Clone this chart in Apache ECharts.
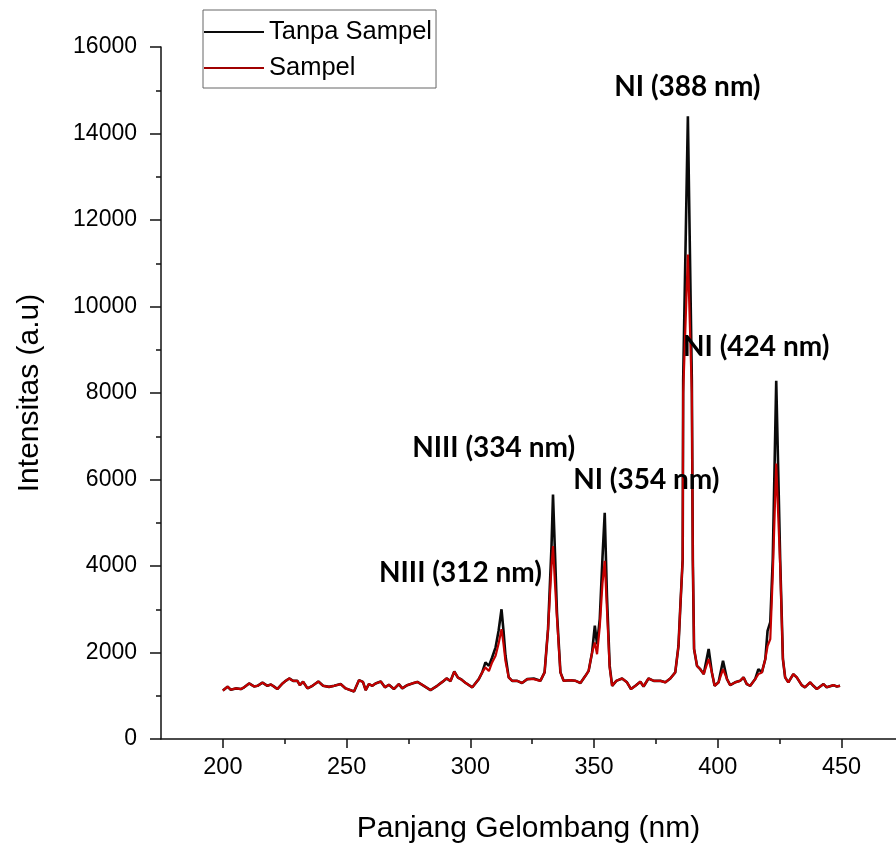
<!DOCTYPE html>
<html><head><meta charset="utf-8">
<script src="https://cdn.jsdelivr.net/npm/echarts@6/dist/echarts.min.js"></script>
<style>html,body{margin:0;padding:0;background:#fff}#c{width:896px;height:849px}</style>
</head><body><div id="c"></div>
<script>
const wavelength = [200.0,201.9,203.2,205.2,207.3,208.6,210.6,212.6,214.0,216.0,218.0,219.4,220.7,222.0,224.1,225.4,226.8,228.4,230.1,231.1,232.4,234.2,236.2,238.6,240.5,242.9,245.0,247.6,249.6,253.0,255.0,256.6,257.7,259.0,260.4,261.7,263.8,265.5,267.1,269.1,271.1,272.5,274.5,276.5,278.6,281.2,283.9,286.6,288.7,290.4,292.0,293.5,295.0,296.5,298.0,300.8,303.4,304.8,306.1,307.5,308.8,310.2,311.4,312.6,313.4,314.2,315.5,316.9,318.9,320.9,323.0,325.6,328.3,330.0,331.4,332.8,333.4,334.2,335.0,336.4,337.7,340.4,342.5,344.5,346.5,347.8,349.2,350.3,351.2,352.3,353.4,354.3,355.2,356.3,357.3,359.0,361.3,363.3,364.9,366.7,368.7,370.0,372.0,374.1,376.8,378.8,380.8,382.8,384.1,384.8,385.8,386.0,387.9,389.5,389.9,390.4,391.6,392.9,394.3,396.3,397.6,398.7,400.3,402.1,403.7,405.0,407.0,409.0,410.4,411.7,413.1,415.1,416.4,417.8,419.2,420.1,421.2,422.2,423.6,425.2,426.3,427.2,428.5,430.5,431.9,433.9,435.2,437.3,438.6,440.0,442.7,444.0,446.7,448.1,449.4];

const tanpaSampel = [1120,1210,1140,1170,1155,1195,1285,1215,1230,1305,1230,1260,1210,1155,1285,1345,1400,1345,1345,1245,1325,1170,1230,1330,1230,1205,1230,1270,1170,1100,1360,1320,1130,1270,1230,1285,1330,1195,1255,1155,1270,1170,1245,1285,1320,1230,1130,1230,1320,1400,1340,1560,1420,1370,1300,1195,1385,1540,1770,1690,1885,2120,2500,3000,2500,1925,1425,1345,1345,1295,1385,1400,1345,1540,2540,4460,5650,4300,2925,1540,1345,1360,1345,1295,1460,1575,2000,2620,2190,2770,4200,5230,3310,1690,1230,1345,1400,1310,1155,1230,1325,1215,1400,1345,1345,1310,1400,1540,2150,3000,4150,8300,14400,8300,4150,2080,1690,1615,1500,2080,1540,1230,1310,1810,1385,1245,1310,1345,1425,1270,1230,1385,1615,1540,1850,2500,2700,4150,8280,4150,1850,1425,1310,1500,1425,1245,1195,1310,1230,1155,1270,1195,1245,1215,1230];

const sampel = [1120,1210,1140,1170,1155,1195,1285,1215,1230,1305,1230,1260,1210,1155,1285,1345,1400,1345,1345,1245,1325,1170,1230,1330,1230,1205,1230,1270,1170,1100,1360,1320,1130,1270,1230,1285,1330,1195,1255,1155,1270,1170,1245,1285,1320,1230,1130,1230,1320,1400,1340,1560,1420,1370,1300,1195,1385,1540,1655,1570,1770,1925,2200,2540,2200,1800,1425,1345,1345,1295,1385,1385,1345,1540,2540,4000,4460,3600,2800,1540,1345,1360,1345,1295,1460,1575,2000,2230,1960,2600,3600,4120,3000,1650,1230,1345,1400,1310,1155,1230,1325,1215,1400,1345,1345,1310,1400,1540,2150,3000,4150,8000,11200,8000,4150,2080,1690,1615,1500,1850,1540,1230,1310,1615,1385,1245,1310,1345,1425,1270,1230,1385,1500,1540,1850,2150,2310,3800,6370,4000,1850,1425,1310,1500,1425,1245,1195,1310,1230,1155,1270,1195,1245,1215,1230];

const seriesNames = ['Tanpa Sampel', 'Sampel'];
const xTickLabels = [200, 250, 300, 350, 400, 450];
const xMinorTicks = [225, 275, 325, 375, 425];
const yTickLabels = [0, 2000, 4000, 6000, 8000, 10000, 12000, 14000, 16000];

const annotationText = ['NI (388 nm)', 'NI (424 nm)', 'NIII (334 nm)', 'NI (354 nm)', 'NIII (312 nm)'];
const annotationX = [387.7, 415.5, 309.4, 371.1, 296.0];
const annotationY = [15080, 9070, 6740, 5980, 3830];

const chart = echarts.init(document.getElementById('c'), null, {renderer: 'canvas'});
const axisFont = 'Liberation Sans';
const axisColor = '#111';

chart.setOption({
  animation: false,
  backgroundColor: '#fff',
  grid: {left: 161, right: 0, top: 47, bottom: 109, containLabel: false},
  legend: {
    data: seriesNames,
    orient: 'vertical',
    left: 203, top: 10,
    padding: [9, 4, 7, 1],
    itemGap: 10,
    itemWidth: 60, itemHeight: 2,
    icon: 'rect',
    borderColor: '#666', borderWidth: 1,
    textStyle: {fontFamily: axisFont, fontSize: 25.5, color: '#000'},
  },
  xAxis: [{
    type: 'value', min: 175, max: 472, interval: 25,
    position: 'bottom',
    name: 'Panjang Gelombang (nm)', nameLocation: 'middle', nameGap: 75,
    nameTextStyle: {fontFamily: axisFont, fontSize: 30, color: '#000'},
    axisLine: {show: true, onZero: false, lineStyle: {color: axisColor, width: 1.5}},
    axisTick: {show: true, inside: false, length: 9, customValues: xTickLabels, lineStyle: {color: axisColor, width: 1.5}},
    axisLabel: {show: true, margin: 17, customValues: xTickLabels, fontFamily: axisFont, fontSize: 23.5, color: '#000'},
    splitLine: {show: false}
  }, {
    type: 'value', min: 175, max: 472, interval: 25,
    position: 'bottom', offset: 0,
    axisLine: {show: false},
    axisTick: {show: true, inside: false, length: 5, customValues: xMinorTicks, lineStyle: {color: axisColor, width: 1.5}},
    axisLabel: {show: false},
    splitLine: {show: false}
  }],
  yAxis: {
    type: 'value', min: 0, max: 16000, interval: 2000,
    name: 'Intensitas (a.u)', nameLocation: 'middle', nameGap: 116,
    nameTextStyle: {fontFamily: axisFont, fontSize: 30, color: '#000'},
    axisLine: {show: true, lineStyle: {color: axisColor, width: 1.5}},
    axisTick: {show: true, inside: false, length: 11, lineStyle: {color: axisColor, width: 1.5}},
    minorTick: {show: true, splitNumber: 2, length: 5, lineStyle: {color: axisColor, width: 1.5}},
    axisLabel: {margin: 24, fontFamily: axisFont, fontSize: 23, color: '#000',
      formatter: v => yTickLabels.includes(v) ? String(v) : ''},
    splitLine: {show: false}
  },
  series: [{
    name: seriesNames[0], type: 'line', xAxisIndex: 0,
    data: wavelength.map((w, i) => [w, tanpaSampel[i]]),
    showSymbol: false, symbol: 'none',
    lineStyle: {color: '#0a0a0a', width: 2.6},
    itemStyle: {color: '#0a0a0a'},
    z: 2
  }, {
    name: seriesNames[1], type: 'line', xAxisIndex: 0,
    data: wavelength.map((w, i) => [w, sampel[i]]),
    showSymbol: false, symbol: 'none',
    lineStyle: {color: '#c40000', width: 2.2},
    itemStyle: {color: '#a00000'},
    z: 3
  }, {
    name: 'annotations', type: 'scatter', xAxisIndex: 0,
    data: annotationX.map((x, i) => ({name: annotationText[i], value: [x, annotationY[i]]})),
    symbolSize: 0, itemStyle: {color: '#000'},
    silent: true, z: 5,
    label: {show: true, position: 'inside', formatter: p => p.name,
      fontFamily: 'Lato', fontWeight: 'bold', fontSize: 28, color: '#000',
      textBorderWidth: 0, textBorderColor: 'transparent', opacity: 1}
  }]
});
</script>
</body></html>
